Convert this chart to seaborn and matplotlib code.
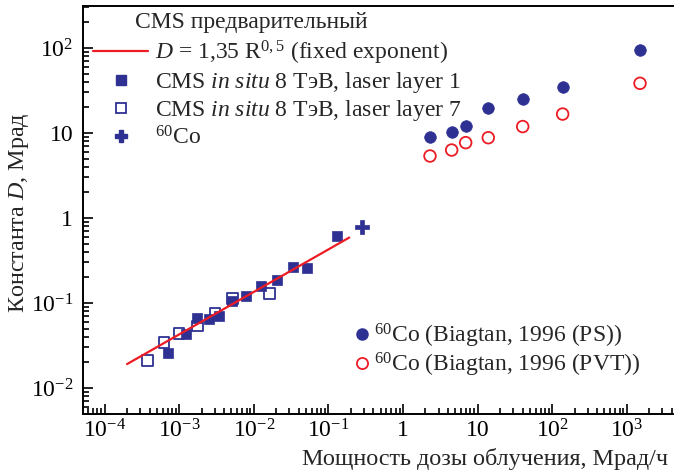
import numpy as np
import matplotlib
matplotlib.use("Agg")
import matplotlib.pyplot as plt
import seaborn as sns
from matplotlib.ticker import FixedLocator, FixedFormatter, LogLocator, NullFormatter
from matplotlib.lines import Line2D

# ---------------- data ----------------
cms_l1_rate = [7.14e-4, 1.23e-3, 1.75e-3, 2.53e-3, 3.45e-3, 5.06e-3, 7.86e-3,
               0.0124, 0.0207, 0.0332, 0.0521, 0.1316]
cms_l1_D = [0.0256, 0.0432, 0.066, 0.0654, 0.0703, 0.1056, 0.121,
            0.158, 0.187, 0.267, 0.256, 0.614]

cms_l7_rate = [3.73e-4, 6.25e-4, 9.93e-4, 1.77e-3, 3.02e-3, 5.21e-3, 0.0161]
cms_l7_D = [0.0210, 0.0341, 0.044, 0.0536, 0.0756, 0.1135, 0.130]

co60_rate = [0.279]
co60_D = [0.79]

biag_rate = [2.30, 4.49, 6.92, 13.9, 40.2, 138, 1503]
biag_ps_D = [8.9, 10.2, 12.2, 19.5, 24.9, 35.1, 94.7]
biag_pvt_D = [5.36, 6.3, 7.7, 8.8, 11.9, 16.7, 38.4]

fit_rate = [2.0e-4, 0.19]
fit_D = [0.0191, 0.588]

xtick_vals = [1e-4, 1e-3, 1e-2, 1e-1, 1, 10, 1e2, 1e3]
xtick_labels = ["$10^{\u22124}$", "$10^{\u22123}$", "$10^{\u22122}$", "$10^{\u22121}$",
                "1", "10", "$10^{2}$", "$10^{3}$"]
ytick_vals = [1e-2, 1e-1, 1, 10, 1e2]
ytick_labels = ["$10^{\u22122}$", "$10^{\u22121}$", "1", "10", "$10^{2}$"]

legend1_title = "CMS предварительный"
legend1_labels = ["$D$ = 1,35 R$^{0,5}$ (fixed exponent)",
                  "CMS $\\mathit{in\\ situ}$ 8 ТэВ, laser layer 1",
                  "CMS $\\mathit{in\\ situ}$ 8 ТэВ, laser layer 7",
                  "$^{60}$Co"]
legend2_labels = ["$^{60}$Co (Biagtan, 1996 (PS))",
                  "$^{60}$Co (Biagtan, 1996 (PVT))"]
xlabel = "Мощность дозы облучения, Мрад/ч"
ylabel = "Константа $D$, Мрад"

# ---------------- style ----------------
sns.set_style("ticks")
plt.rcParams["font.family"] = ["Liberation Serif", "DejaVu Serif"]
plt.rcParams["mathtext.fontset"] = "custom"
plt.rcParams["mathtext.rm"] = "Liberation Serif"
plt.rcParams["mathtext.it"] = "Liberation Serif:italic"
plt.rcParams["mathtext.bf"] = "Liberation Serif:bold"
plt.rcParams["axes.unicode_minus"] = True

NAVY = "#2E3192"
RED = "#ED1C24"
FS = 17
FS_LAB = 17.4

fig = plt.figure(figsize=(6.74, 4.75), dpi=100)
ax = fig.add_axes([83 / 674, 61 / 475, 590 / 674, 408 / 475])

sns.lineplot(x=fit_rate, y=fit_D, color=RED, linewidth=1.6, ax=ax, legend=False)
sns.scatterplot(x=cms_l1_rate, y=cms_l1_D, marker="s", s=62, color=NAVY,
                edgecolor=NAVY, linewidth=0.5, ax=ax, legend=False)
sns.scatterplot(x=cms_l7_rate, y=cms_l7_D, marker="s", s=62, facecolor="none",
                edgecolor=NAVY, linewidth=1.3, ax=ax, legend=False)
sns.scatterplot(x=co60_rate, y=co60_D, marker="P", s=90, color=NAVY,
                edgecolor=NAVY, linewidth=0.5, ax=ax, legend=False)
sns.scatterplot(x=biag_rate, y=biag_ps_D, marker="o", s=70, color=NAVY,
                edgecolor=NAVY, linewidth=0.5, ax=ax, legend=False)
sns.scatterplot(x=biag_rate, y=biag_pvt_D, marker="o", s=70, facecolor="none",
                edgecolor=RED, linewidth=1.3, ax=ax, legend=False)

ax.set_xscale("log")
ax.set_yscale("log")
ax.set_xlim(5.135e-5, 4160)
ax.set_ylim(4.94e-3, 312)

ax.xaxis.set_major_locator(FixedLocator(xtick_vals))
ax.xaxis.set_major_formatter(FixedFormatter(xtick_labels))
ax.yaxis.set_major_locator(FixedLocator(ytick_vals))
ax.yaxis.set_major_formatter(FixedFormatter(ytick_labels))
for axis in (ax.xaxis, ax.yaxis):
    axis.set_minor_locator(LogLocator(base=10, subs=np.arange(2, 10), numticks=60))
    axis.set_minor_formatter(NullFormatter())

ax.tick_params(which="both", direction="in", top=False, right=False,
               labelsize=FS, colors="black", width=1.2)
ax.tick_params(which="major", length=7)
ax.tick_params(which="minor", length=4)
ax.tick_params(axis="x", pad=4)
ax.tick_params(axis="y", pad=7)

for s in ("left", "bottom", "top"):
    ax.spines[s].set_linewidth(1.4)
    ax.spines[s].set_color("black")
ax.spines["right"].set_visible(False)

ax.set_xlabel(xlabel, fontsize=FS_LAB, loc="right", labelpad=3.5)
ax.xaxis.label.set_x((668 - 83) / 590)
ax.set_ylabel(ylabel, fontsize=FS_LAB, labelpad=0)
ax.yaxis.label.set_y((414 - 213) / 408)

# legend 1
h1 = [Line2D([], [], color=RED, lw=1.6),
      Line2D([], [], ls="none", marker="s", ms=7.6, color=NAVY, mec=NAVY),
      Line2D([], [], ls="none", marker="s", ms=7.6, mfc="none", mec=NAVY, mew=1.3),
      Line2D([], [], ls="none", marker="P", ms=9, color=NAVY, mec=NAVY)]
leg1 = ax.legend(h1, legend1_labels, loc="upper left", bbox_to_anchor=(0.017, 0.919),
                 frameon=False, fontsize=FS, handlelength=2.33, handletextpad=0.3,
                 borderpad=0, borderaxespad=0, labelspacing=0.13)
ax.add_artist(leg1)
ax.text(52 / 590, (414 - 23) / 408, legend1_title, transform=ax.transAxes,
        fontsize=FS, va="center", ha="left")

# legend 2
h2 = [Line2D([], [], ls="none", marker="o", ms=8.0, color=NAVY, mec=NAVY),
      Line2D([], [], ls="none", marker="o", ms=8.0, mfc="none", mec=RED, mew=1.3)]
ax.legend(h2, legend2_labels, loc="upper left", bbox_to_anchor=(0.456, 0.226),
          frameon=False, fontsize=FS, handlelength=0.82, handletextpad=0.12,
          borderpad=0, borderaxespad=0, labelspacing=0.03)

fig.savefig("out.png", dpi=100)
